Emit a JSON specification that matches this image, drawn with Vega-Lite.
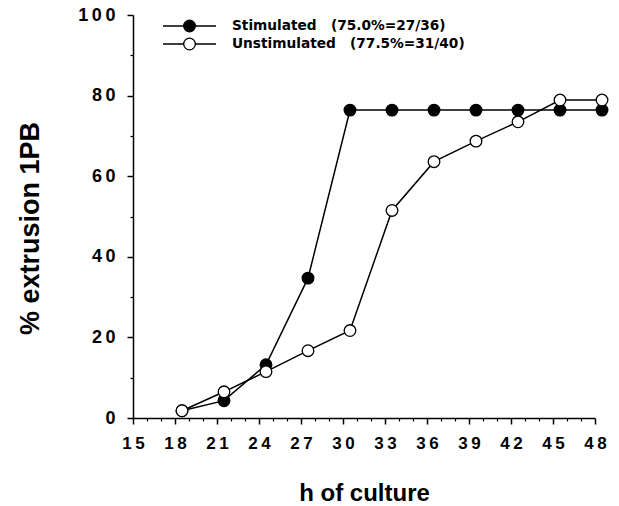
{
  "$schema": "https://vega.github.io/schema/vega-lite/v6.json",
  "autosize": "none",
  "width": 462,
  "height": 403,
  "padding": {"left": 133, "top": 15, "right": 24, "bottom": 88},
  "background": "white",
  "config": {
    "view": {"stroke": null},
    "font": "Liberation Sans"
  },
  "data": {
    "values": [
      {"series": "Stimulated\u00a0\u00a0\u00a0(75.0%=27/36)", "hour": 18.5, "pct": 1.8},
      {"series": "Stimulated\u00a0\u00a0\u00a0(75.0%=27/36)", "hour": 21.5, "pct": 4.3},
      {"series": "Stimulated\u00a0\u00a0\u00a0(75.0%=27/36)", "hour": 24.5, "pct": 13.2},
      {"series": "Stimulated\u00a0\u00a0\u00a0(75.0%=27/36)", "hour": 27.5, "pct": 34.7},
      {"series": "Stimulated\u00a0\u00a0\u00a0(75.0%=27/36)", "hour": 30.5, "pct": 76.4},
      {"series": "Stimulated\u00a0\u00a0\u00a0(75.0%=27/36)", "hour": 33.5, "pct": 76.4},
      {"series": "Stimulated\u00a0\u00a0\u00a0(75.0%=27/36)", "hour": 36.5, "pct": 76.4},
      {"series": "Stimulated\u00a0\u00a0\u00a0(75.0%=27/36)", "hour": 39.5, "pct": 76.4},
      {"series": "Stimulated\u00a0\u00a0\u00a0(75.0%=27/36)", "hour": 42.5, "pct": 76.4},
      {"series": "Stimulated\u00a0\u00a0\u00a0(75.0%=27/36)", "hour": 45.5, "pct": 76.4},
      {"series": "Stimulated\u00a0\u00a0\u00a0(75.0%=27/36)", "hour": 48.5, "pct": 76.4},
      {"series": "Unstimulated\u00a0\u00a0\u00a0(77.5%=31/40)", "hour": 18.5, "pct": 1.8},
      {"series": "Unstimulated\u00a0\u00a0\u00a0(77.5%=31/40)", "hour": 21.5, "pct": 6.5},
      {"series": "Unstimulated\u00a0\u00a0\u00a0(77.5%=31/40)", "hour": 24.5, "pct": 11.5},
      {"series": "Unstimulated\u00a0\u00a0\u00a0(77.5%=31/40)", "hour": 27.5, "pct": 16.7},
      {"series": "Unstimulated\u00a0\u00a0\u00a0(77.5%=31/40)", "hour": 30.5, "pct": 21.7},
      {"series": "Unstimulated\u00a0\u00a0\u00a0(77.5%=31/40)", "hour": 33.5, "pct": 51.5},
      {"series": "Unstimulated\u00a0\u00a0\u00a0(77.5%=31/40)", "hour": 36.5, "pct": 63.6},
      {"series": "Unstimulated\u00a0\u00a0\u00a0(77.5%=31/40)", "hour": 39.5, "pct": 68.7},
      {"series": "Unstimulated\u00a0\u00a0\u00a0(77.5%=31/40)", "hour": 42.5, "pct": 73.5},
      {"series": "Unstimulated\u00a0\u00a0\u00a0(77.5%=31/40)", "hour": 45.5, "pct": 78.9},
      {"series": "Unstimulated\u00a0\u00a0\u00a0(77.5%=31/40)", "hour": 48.5, "pct": 78.9}
    ]
  },
  "layer": [
    {
      "mark": {"type": "line", "color": "black", "strokeWidth": 1.5, "clip": false},
      "encoding": {
        "x": {
          "field": "hour", "type": "quantitative",
          "scale": {"domain": [15, 48], "nice": false, "zero": false},
          "axis": {
            "orient": "bottom",
            "values": [15, 18, 21, 24, 27, 30, 33, 36, 39, 42, 45, 48],
            "grid": false,
            "domainColor": "black", "domainWidth": 1.5,
            "tickColor": "black", "tickWidth": 1.5, "tickSize": 6,
            "labelFont": "Liberation Sans", "labelFontWeight": "bold", "labelFontSize": 17,
            "labelColor": "black", "labelPadding": 11, "labelFlush": false,
            "labelExpr": "replace(datum.label, regexp('([0-9])(?=[0-9])','g'), '$1\u2009')",
            "title": "h of culture",
            "titleFont": "Liberation Sans", "titleFontWeight": "bold", "titleFontSize": 24,
            "titleColor": "black", "titleX": 231, "titleY": 82, "titleBaseline": "alphabetic", "titleAlign": "center"
          }
        },
        "y": {
          "field": "pct", "type": "quantitative",
          "scale": {"domain": [0, 100], "nice": false},
          "axis": {
            "orient": "left",
            "values": [0, 20, 40, 60, 80, 100],
            "grid": false,
            "domainColor": "black", "domainWidth": 1.5,
            "tickColor": "black", "tickWidth": 1.5, "tickSize": 6,
            "labelFont": "Liberation Sans", "labelFontWeight": "bold", "labelFontSize": 18,
            "labelColor": "black", "labelPadding": 12, "labelFlush": false,
            "labelExpr": "replace(datum.label, regexp('([0-9])(?=[0-9])','g'), '$1\u2009')",
            "title": "% extrusion 1PB",
            "titleFont": "Liberation Sans", "titleFontWeight": "bold", "titleFontSize": 27,
            "titleColor": "black", "titleX": -103, "titleY": 213, "titleAngle": -90,
            "titleBaseline": "middle", "titleAlign": "center"
          }
        },
        "detail": {"field": "series", "type": "nominal"}
      }
    },
    {
      "mark": {"type": "point", "shape": "circle", "filled": true, "stroke": "black", "strokeWidth": 1.3, "size": 135, "opacity": 1, "clip": false},
      "encoding": {
        "x": {
          "field": "hour", "type": "quantitative",
          "axis": {
            "orient": "bottom",
            "values": [16, 17, 19, 20, 22, 23, 25, 26, 28, 29, 31, 32, 34, 35, 37, 38, 40, 41, 43, 44, 46, 47],
            "grid": false, "domain": false, "labels": false, "title": null,
            "tickColor": "black", "tickWidth": 1.2, "tickSize": 3
          }
        },
        "y": {
          "field": "pct", "type": "quantitative",
          "axis": {
            "orient": "left",
            "values": [10, 30, 50, 70, 90],
            "grid": false, "domain": false, "labels": false, "title": null,
            "tickColor": "black", "tickWidth": 1.2, "tickSize": 3
          }
        },
        "fill": {
          "field": "series", "type": "nominal",
          "scale": {
            "domain": ["Stimulated\u00a0\u00a0\u00a0(75.0%=27/36)", "Unstimulated\u00a0\u00a0\u00a0(77.5%=31/40)"],
            "range": ["black", "white"]
          },
          "legend": {
            "title": null,
            "orient": "none",
            "legendX": 29,
            "legendY": 4,
            "padding": 0,
            "symbolType": "M-1,0L-0.22,0M0.22,0L1,0M-0.22,0A0.22,0.22,0,1,0,0.22,0A0.22,0.22,0,1,0,-0.22,0Z",
            "symbolSize": 2809,
            "symbolStrokeColor": "black",
            "symbolStrokeWidth": 1.3,
            "symbolOpacity": 1,
            "clipHeight": 14,
            "rowPadding": 4,
            "labelOffset": 15,
            "labelFont": "DejaVu Sans",
            "labelFontWeight": "bold",
            "labelFontSize": 13.7,
            "labelColor": "black",
            "labelLimit": 400
          }
        }
      }
    }
  ],
  "resolve": {"axis": {"x": "independent", "y": "independent"}}
}
